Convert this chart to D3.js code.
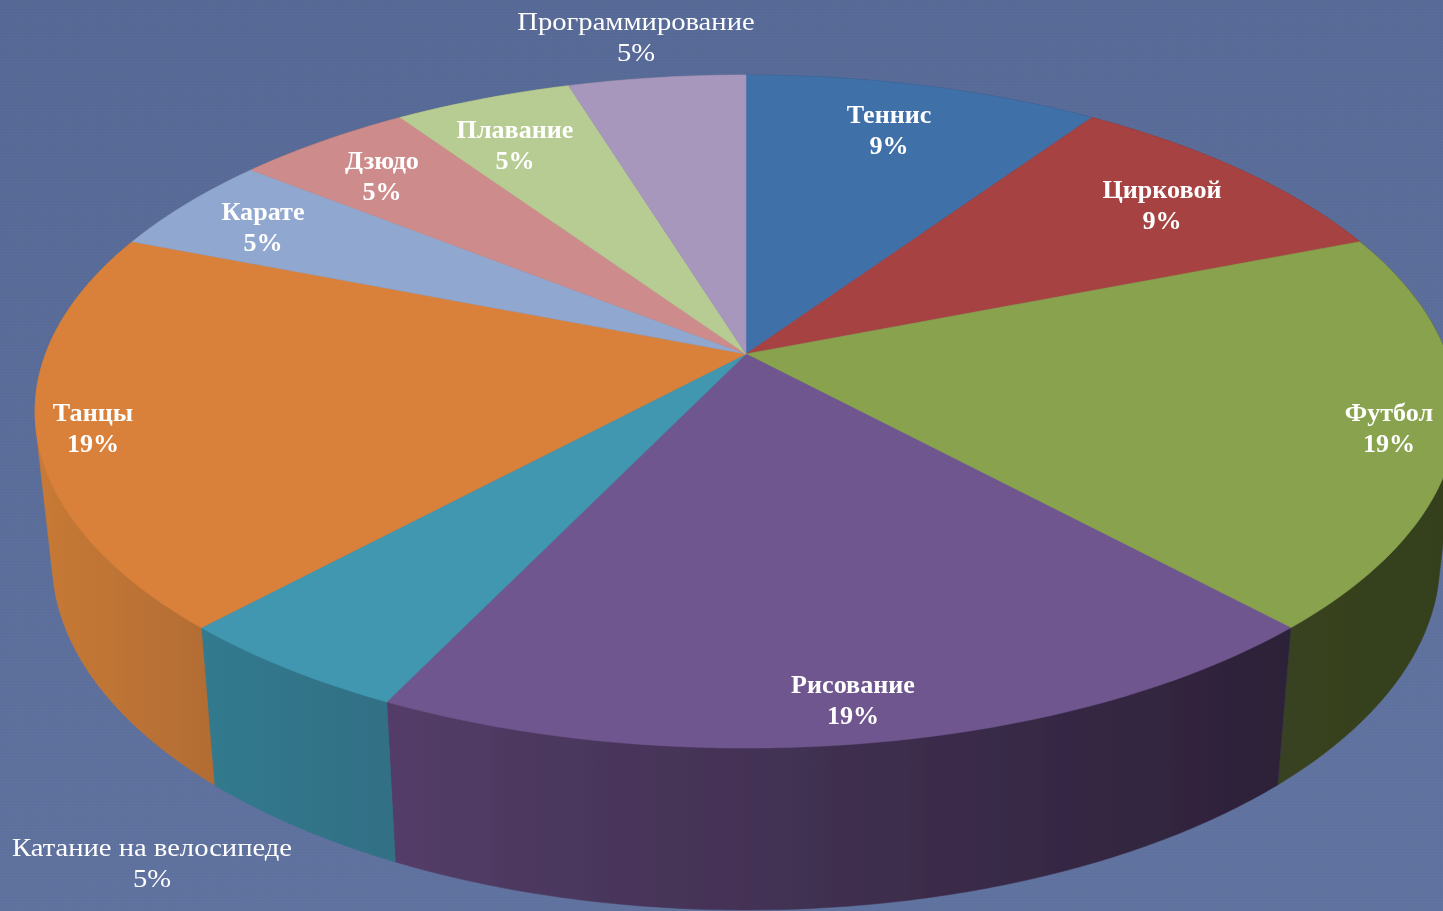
<!DOCTYPE html>
<html>
<head>
<meta charset="utf-8">
<script src="https://cdn.jsdelivr.net/npm/d3@7"></script>
<style>
  html, body { margin: 0; padding: 0; background: #5a6d9a; overflow: hidden; }
  svg { display: block; }
  text { font-family: "Liberation Serif", serif; fill: #fff; text-anchor: middle; }
</style>
</head>
<body>
<div id="chart"></div>
<script>
// clockwise from 12 o'clock
var categories = ["Теннис", "Цирковой", "Футбол", "Рисование", "Катание на велосипеде",
                  "Танцы", "Карате", "Дзюдо", "Плавание", "Программирование"];
var shares = [2, 2, 4, 4, 1, 4, 1, 1, 1, 1];
var percentLabels = ["9%", "9%", "19%", "19%", "5%", "19%", "5%", "5%", "5%", "5%"];

var topColors = ["#416fa8", "#a64342", "#88a24e", "#70578e", "#3f97af",
                 "#d9803a", "#90a7cf", "#cd8c8b", "#b7cc92", "#a797bd"];
// wall shading, left edge to right edge of each slice
var wallLeft = ["#2f5078", "#772f2f", "#384320", "#533d68", "#307a8e",
                "#c87a36", "#6a7b99", "#976766", "#87966b", "#7a6e8b"];
var wallRight = ["#2f5078", "#772f2f", "#343e1c", "#2c2138", "#326f85",
                 "#b26c33", "#6a7b99", "#976766", "#87966b", "#7a6e8b"];

// label anchors (centre x, first baseline y)
var labelSpots = [[889, 123], [1162, 198], [1389, 421], [853, 693], [152, 856],
                  [93, 421], [263, 220], [382, 169], [515, 138], [636, 30]];
var outsideLabels = ["Катание на велосипеде", "Программирование"];

var w = 1443, h = 911;
var cx = 746, cy = 354;
var radiusX = 700.5, radiusY = 326.7, tilt = 0.171;
var lineGap = 31;

var svg = d3.select("#chart").append("svg").attr("width", w).attr("height", h);
var defs = svg.append("defs");

var bg = defs.append("linearGradient").attr("id", "bg")
    .attr("x1", 0).attr("y1", 0).attr("x2", 0.25).attr("y2", 1);
bg.append("stop").attr("offset", "0%").attr("stop-color", "#566996");
bg.append("stop").attr("offset", "100%").attr("stop-color", "#60729f");

var dots = defs.append("pattern").attr("id", "dots")
    .attr("width", 3).attr("height", 3).attr("patternUnits", "userSpaceOnUse");
dots.append("rect").attr("width", 1.5).attr("height", 1.5).attr("fill", "#000").attr("opacity", 0.02);
dots.append("rect").attr("x", 1.5).attr("y", 1.5).attr("width", 1.5).attr("height", 1.5).attr("fill", "#fff").attr("opacity", 0.015);

defs.append("filter").attr("id", "soft")
  .append("feGaussianBlur").attr("stdDeviation", 0.55);
defs.append("filter").attr("id", "softText")
  .append("feGaussianBlur").attr("stdDeviation", 0.3);

svg.append("rect").attr("width", w).attr("height", h).attr("fill", "url(#bg)");
svg.append("rect").attr("width", w).attr("height", h).attr("fill", "url(#dots)");

// perspective view of the disc: angle a, radius share r
function project(a, r) {
  var u = Math.sin(a) * r, v = Math.cos(a) * r;
  var k = 1 + tilt * v;
  return [cx + radiusX * u / k, cy - radiusY * v / k];
}

// the bottom face sits lower and a little narrower
function lower(p) {
  return [cx + (p[0] - cx) * 0.976, p[1] * 1.04 + 132];
}

function rim(d) {
  var n = Math.max(8, Math.ceil((d.endAngle - d.startAngle) * 40));
  return d3.range(n + 1).map(function(i) {
    return project(d.startAngle + (d.endAngle - d.startAngle) * i / n, 1);
  });
}

var pie = d3.pie().sort(null).value(function(d) { return d; });
var arcs = pie(shares);
var line = d3.line();

var g = svg.append("g").attr("filter", "url(#soft)");

// walls first, the top face covers whatever is behind it
arcs.forEach(function(d, i) {
  var top = rim(d);
  var pts = top.concat(top.map(lower));
  var xs = d3.extent(pts, function(p) { return p[0]; });
  var grad = defs.append("linearGradient").attr("id", "wall" + i)
      .attr("gradientUnits", "userSpaceOnUse")
      .attr("x1", xs[0]).attr("x2", xs[1]).attr("y1", 0).attr("y2", 0);
  grad.append("stop").attr("offset", "0%").attr("stop-color", wallLeft[i]);
  grad.append("stop").attr("offset", "100%").attr("stop-color", wallRight[i]);

  // hull gives the straight silhouette between the two faces at the far left and right
  g.append("path")
      .attr("d", line(d3.polygonHull(pts)) + "Z")
      .attr("fill", "url(#wall" + i + ")")
      .attr("stroke", "url(#wall" + i + ")")
      .attr("stroke-width", 0.5);
});

arcs.forEach(function(d, i) {
  g.append("path")
      .attr("d", line([project(0, 0)].concat(rim(d))) + "Z")
      .attr("fill", topColors[i])
      .attr("stroke", topColors[i])
      .attr("stroke-width", 0.5);
});

var labels = svg.append("g").attr("filter", "url(#softText)");
categories.forEach(function(name, i) {
  var outside = outsideLabels.indexOf(name) >= 0;
  // Cambria-like width out of Liberation Serif
  var stretch = outside ? 1.145 : 1.045;
  var t = labels.append("text")
      .attr("transform", "translate(" + labelSpots[i][0] + "," + labelSpots[i][1] + ") scale(" + stretch + ",1)")
      .attr("font-size", 25)
      .attr("font-weight", outside ? "normal" : "bold");
  t.append("tspan").attr("x", 0).attr("y", 0).text(name);
  t.append("tspan").attr("x", 0).attr("y", lineGap).text(percentLabels[i]);
});
</script>
</body>
</html>
